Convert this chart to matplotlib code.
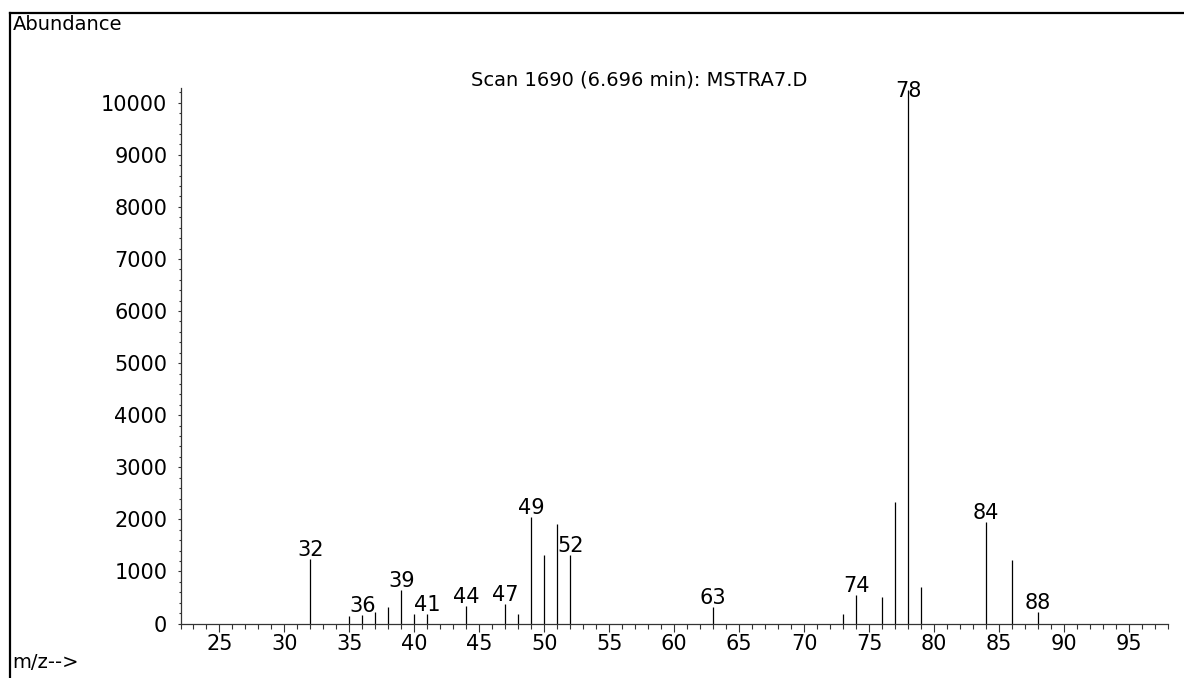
import matplotlib
matplotlib.use("Agg")
import matplotlib.pyplot as plt
from matplotlib.lines import Line2D
from matplotlib.ticker import MultipleLocator

# Mass spectrum, scan 1690
mz = [32, 35, 36, 37, 38, 39, 40, 41, 44, 47, 48, 49, 50, 51, 52,
      63, 73, 74, 76, 77, 78, 79, 84, 86, 88]
abundance = [1235, 147, 154, 224, 313, 634, 179, 173, 332, 374, 188, 2045, 1321, 1920, 1315,
             320, 173, 551, 505, 2337, 10250, 705, 1953, 1210, 230]
labeled_mz = [32, 36, 39, 41, 44, 47, 49, 52, 63, 74, 78, 84, 88]

title = "Scan 1690 (6.696 min): MSTRA7.D"
y_title = "Abundance"
x_title = "m/z-->"

plt.rcParams["font.family"] = ["DejaVu Sans"]

W, H = 1184, 678
fig = plt.figure(figsize=(W / 100, H / 100), dpi=100)
ax = fig.add_axes([180.5 / W, 54.5 / H, (1168 - 180.5) / W, (623.5 - 88.3) / H])

ax.vlines(mz, 0, abundance, colors="black", linewidth=0.9)

ax.set_xlim(22, 98)
ax.set_ylim(0, 10277)

for s in ("top", "right"):
    ax.spines[s].set_visible(False)
for s in ("left", "bottom"):
    ax.spines[s].set_color("#333333")
    ax.spines[s].set_linewidth(0.9)

ax.xaxis.set_major_locator(MultipleLocator(5))
ax.xaxis.set_minor_locator(MultipleLocator(1))
ax.yaxis.set_major_locator(MultipleLocator(1000))
ax.yaxis.set_minor_locator(MultipleLocator(200))
ax.set_xticks(range(25, 100, 5))
ax.tick_params(axis="x", which="major", direction="out", length=6, width=0.8,
               color="#333333", labelsize=15, pad=1.5)
ax.tick_params(axis="x", which="minor", direction="out", length=3.5, width=0.8,
               color="#333333")
ax.tick_params(axis="y", which="major", direction="out", length=2.5, width=0.8,
               color="#333333", labelsize=15, pad=7)
ax.tick_params(axis="y", which="minor", direction="out", length=1.5, width=0.8,
               color="#333333")

ymax = ax.get_ylim()[1]
for m, a in zip(mz, abundance):
    if m not in labeled_mz:
        continue
    if a > 0.95 * ymax:
        ax.annotate(str(m), (m, ymax), xytext=(0, 7), textcoords="offset pixels",
                    ha="center", va="top", fontsize=15, annotation_clip=False)
    else:
        ax.annotate(str(m), (m, a), xytext=(0, 3), textcoords="offset pixels",
                    ha="center", va="baseline", fontsize=15, annotation_clip=False)

fig.text(639.5 / W, 1 - 85 / H, title, ha="center", va="baseline", fontsize=14)
fig.text(12.7 / W, 1 - 30 / H, y_title, ha="left", va="baseline", fontsize=14)
fig.text(12.7 / W, 1 - 668.3 / H, x_title, ha="left", va="baseline", fontsize=14)

# Report frame: left and top border
fig.add_artist(Line2D([9.5 / W, 9.5 / W], [0, 1 - 13 / H], color="black",
                      linewidth=1.6, transform=fig.transFigure))
fig.add_artist(Line2D([9.5 / W, 1], [1 - 13 / H, 1 - 13 / H], color="black",
                      linewidth=1.6, transform=fig.transFigure))

fig.savefig("out.png", dpi=100)
